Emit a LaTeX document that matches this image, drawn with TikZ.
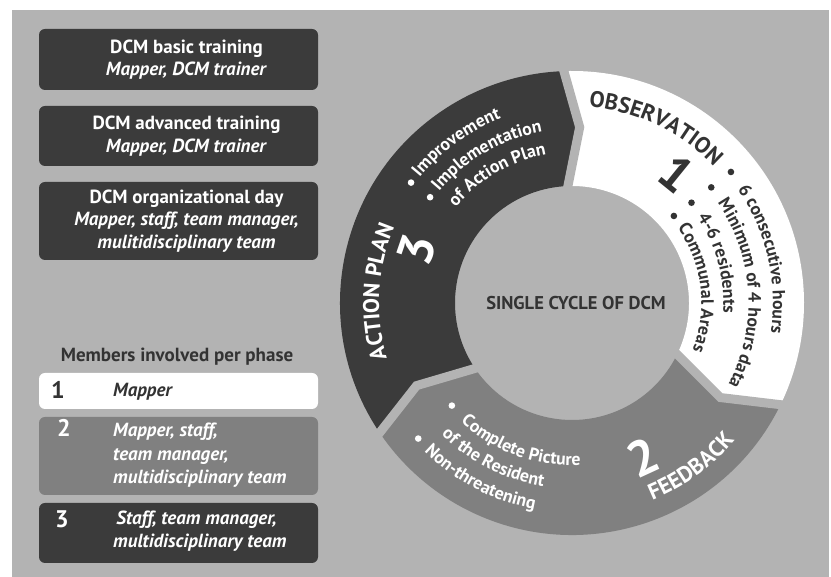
\documentclass[tikz,border=0pt]{standalone}
\usepackage{fontspec}
\setmainfont{PT Sans}
\usetikzlibrary{decorations.text,calc}
\definecolor{bgray}{HTML}{B3B3B3}
\definecolor{dgray}{HTML}{3B3B3B}
\definecolor{mgray}{HTML}{808080}
\definecolor{tgray}{HTML}{333333}
\newcommand\lfont{\bfseries\fontsize{19}{22.5}\selectfont}
\newcommand\pfont{\bfseries\fontsize{19}{23.5}\selectfont}
\newcommand\rfont{\bfseries\fontsize{17.8}{17.8}\selectfont}
\newcommand\hfont{\bfseries\fontsize{22.5}{22.5}\selectfont}
\newcommand\dfont{\bfseries\fontsize{24}{24}\selectfont}
\newcommand\bigfont{\bfseries\fontsize{50}{50}\selectfont}
\tikzset{
  topbox/.style={fill=dgray, rounded corners=6pt, minimum width=279pt, inner sep=0pt},
  toptext/.style={text=white, align=center, font=\lfont, inner sep=0pt},
  phbox/.style={rounded corners=6pt, minimum width=279pt, inner sep=0pt},
  digit/.style={font=\dfont, inner sep=0pt},
  phtext/.style={anchor=west, align=left, font=\pfont, inner sep=0pt},
  gap/.style={bgray, line width=9pt, line join=miter},
  bignum/.style={font=\bigfont, inner sep=0pt},
  blt/.style={radius=3.3pt}
}
\begin{document}
\begin{tikzpicture}[x=1pt,y=1pt]
\useasboundingbox (0,0) rectangle (831,577);
\fill[white] (0,0) rectangle (831,577);
\fill[bgray] (12,0) rectangle (829,567);

% left boxes
\node[topbox, minimum height=61pt] (b1) at (178.5,517.5) {};
\node[topbox, minimum height=60pt] (b2) at (178.5,441) {};
\node[topbox, minimum height=78pt] (b3) at (178.5,356) {};
\node[toptext] (b1t) at ([xshift=8pt]b1.center) {DCM basic training\\\textit{Mapper, DCM trainer}};
\node[toptext] (b2t) at ([xshift=8pt]b2.center) {DCM advanced training\\\textit{Mapper, DCM trainer}};
\node[toptext] (b3t) at ([xshift=8pt]b3.center) {DCM organizational day\\\textit{Mapper, staff, team manager,}\\\textit{mulitidisciplinary team}};

\node[font=\bfseries\fontsize{19}{19}\selectfont, text=tgray] (mh) at (177,220.5) {Members involved per phase};

\node[phbox, fill=white, minimum height=36pt] (p1) at (178.5,186) {};
\node[phbox, fill=mgray, minimum height=78pt] (p2) at (178.5,121) {};
\node[phbox, fill=dgray, minimum height=60pt] (p3) at (178.5,44) {};

\node[digit, text=tgray] (n1) at (58,187) {1};
\node[digit, text=white] (n2) at (64,149) {2};
\node[digit, text=white] (n3) at (62,58) {3};

\node[phtext, text=tgray] (t1) at (113,185) {\textit{Mapper}};
\node[phtext, text=white] (t2) at (113,121.5) {\textit{Mapper, staff,}\\\textit{team manager,}\\\textit{multidisciplinary team}};
\node[phtext, text=white, font=\bfseries\fontsize{19}{23}\selectfont] (t3) at (113,45.5) {\,\textit{Staff, team manager,}\\\textit{multidisciplinary team}};

% ring
\begin{scope}[shift={(572,274)}]
\fill[dgray] (214:117pt) -- (208:176pt) -- (214:232pt)
  arc[start angle=214, end angle=92, radius=232pt] -- (87.5:176pt) -- (92:117pt)
  arc[start angle=92, end angle=214, radius=117pt] -- cycle;
\fill[white] (92:117pt) -- (87.5:176pt) -- (92:232pt)
  arc[start angle=92, end angle=-26, radius=232pt] -- (-32.5:176pt) -- (-26:117pt)
  arc[start angle=-26, end angle=92, radius=117pt] -- cycle;
\fill[mgray] (-26:117pt) -- (-32.5:176pt) -- (-26:232pt)
  arc[start angle=-26, end angle=-146, radius=232pt] -- (-152:176pt) -- (-146:117pt)
  arc[start angle=-146, end angle=-26, radius=117pt] -- cycle;

\draw[gap] ($(87.5:176pt)!1.25!(92:117pt)$) -- (87.5:176pt) -- ($(87.5:176pt)!1.25!(92:232pt)$);
\draw[gap] ($(-32.5:176pt)!1.25!(-26:117pt)$) -- (-32.5:176pt) -- ($(-32.5:176pt)!1.25!(-26:232pt)$);
\draw[gap] ($(-152:176pt)!1.25!(-146:117pt)$) -- (-152:176pt) -- ($(-152:176pt)!1.25!(-146:232pt)$);

\node[font=\bfseries\fontsize{18.5}{18.5}\selectfont, text=tgray] (cyc) at (4,-0.5) {SINGLE CYCLE OF DCM};

% headings
\path[decorate, decoration={text along path, text align=center, text={|\hfont\color{tgray}|OBSERVATION}}]
  (104.5:197pt) arc[start angle=104.5, end angle=24.5, radius=197pt];
\path[decorate, decoration={text along path, text align=center, text={|\hfont\color{white}|ACTION PLAN}}]
  (216.7:193pt) arc[start angle=216.7, end angle=136.7, radius=193pt];
\path[decorate, decoration={text along path, text align=center, text={|\hfont\color{white}|FEEDBACK}}]
  (-94:213pt) arc[start angle=-94, end angle=-14, radius=213pt];

% big numbers
\node[bignum, text=tgray, rotate=-39] (g1) at (51:167pt) {1};
\node[bignum, text=white, rotate=24.7] (g2) at (-65.3:170pt) {2};
\node[bignum, text=white, rotate=71] (g3) at (161:164pt) {3};

% observation list
\fill[tgray] (39.5:206pt) circle[blt];
\fill[tgray] (39.7:181pt) circle[blt];
\fill[tgray] (40:156pt) circle[blt];
\fill[tgray] (40.5:134pt) circle[blt];
\path[decorate, decoration={text along path, text={|\rfont\color{tgray}|6 consecutive hours}}]
  (34.5:201pt) arc[start angle=34.5, end angle=-45, radius=201pt];
\path[decorate, decoration={text along path, text={|\rfont\color{tgray}|Minimum of 4 hours data}}]
  (34.5:176.5pt) arc[start angle=34.5, end angle=-45, radius=176.5pt];
\path[decorate, decoration={text along path, text={|\rfont\color{tgray}|4-6 residents}}]
  (34.3:151.5pt) arc[start angle=34.3, end angle=-45, radius=151.5pt];
\path[decorate, decoration={text along path, text={|\rfont\color{tgray}|Communal Areas}}]
  (35.5:129.5pt) arc[start angle=35.5, end angle=-45, radius=129.5pt];

% action list
\fill[white] (143.2:201pt) circle[blt];
\fill[white] (143.3:177pt) circle[blt];
\path[decorate, decoration={text along path, text={|\rfont\color{white}|Improvement}}]
  (140.5:197.5pt) arc[start angle=140.5, end angle=80, radius=197.5pt];
\path[decorate, decoration={text along path, text={|\rfont\color{white}|Implementation}}]
  (140:173.5pt) arc[start angle=140, end angle=80, radius=173.5pt];
\path[decorate, decoration={text along path, text={|\rfont\color{white}|of Action Plan}}]
  (140.5:150.5pt) arc[start angle=140.5, end angle=80, radius=150.5pt];

% feedback list
\fill[white] (220.5:158pt) circle[blt];
\fill[white] (221.4:205pt) circle[blt];
\path[decorate, decoration={text along path, text={|\rfont\color{white}|Complete Picture}}]
  (226.8:162.5pt) arc[start angle=226.8, end angle=300, radius=162.5pt];
\path[decorate, decoration={text along path, text={|\rfont\color{white}|of the Resident}}]
  (225.3:185.5pt) arc[start angle=225.3, end angle=300, radius=185.5pt];
\path[decorate, decoration={text along path, text={|\rfont\color{white}|Non-threatening}}]
  (225.1:209.5pt) arc[start angle=225.1, end angle=300, radius=209.5pt];
\end{scope}
\end{tikzpicture}
\end{document}
